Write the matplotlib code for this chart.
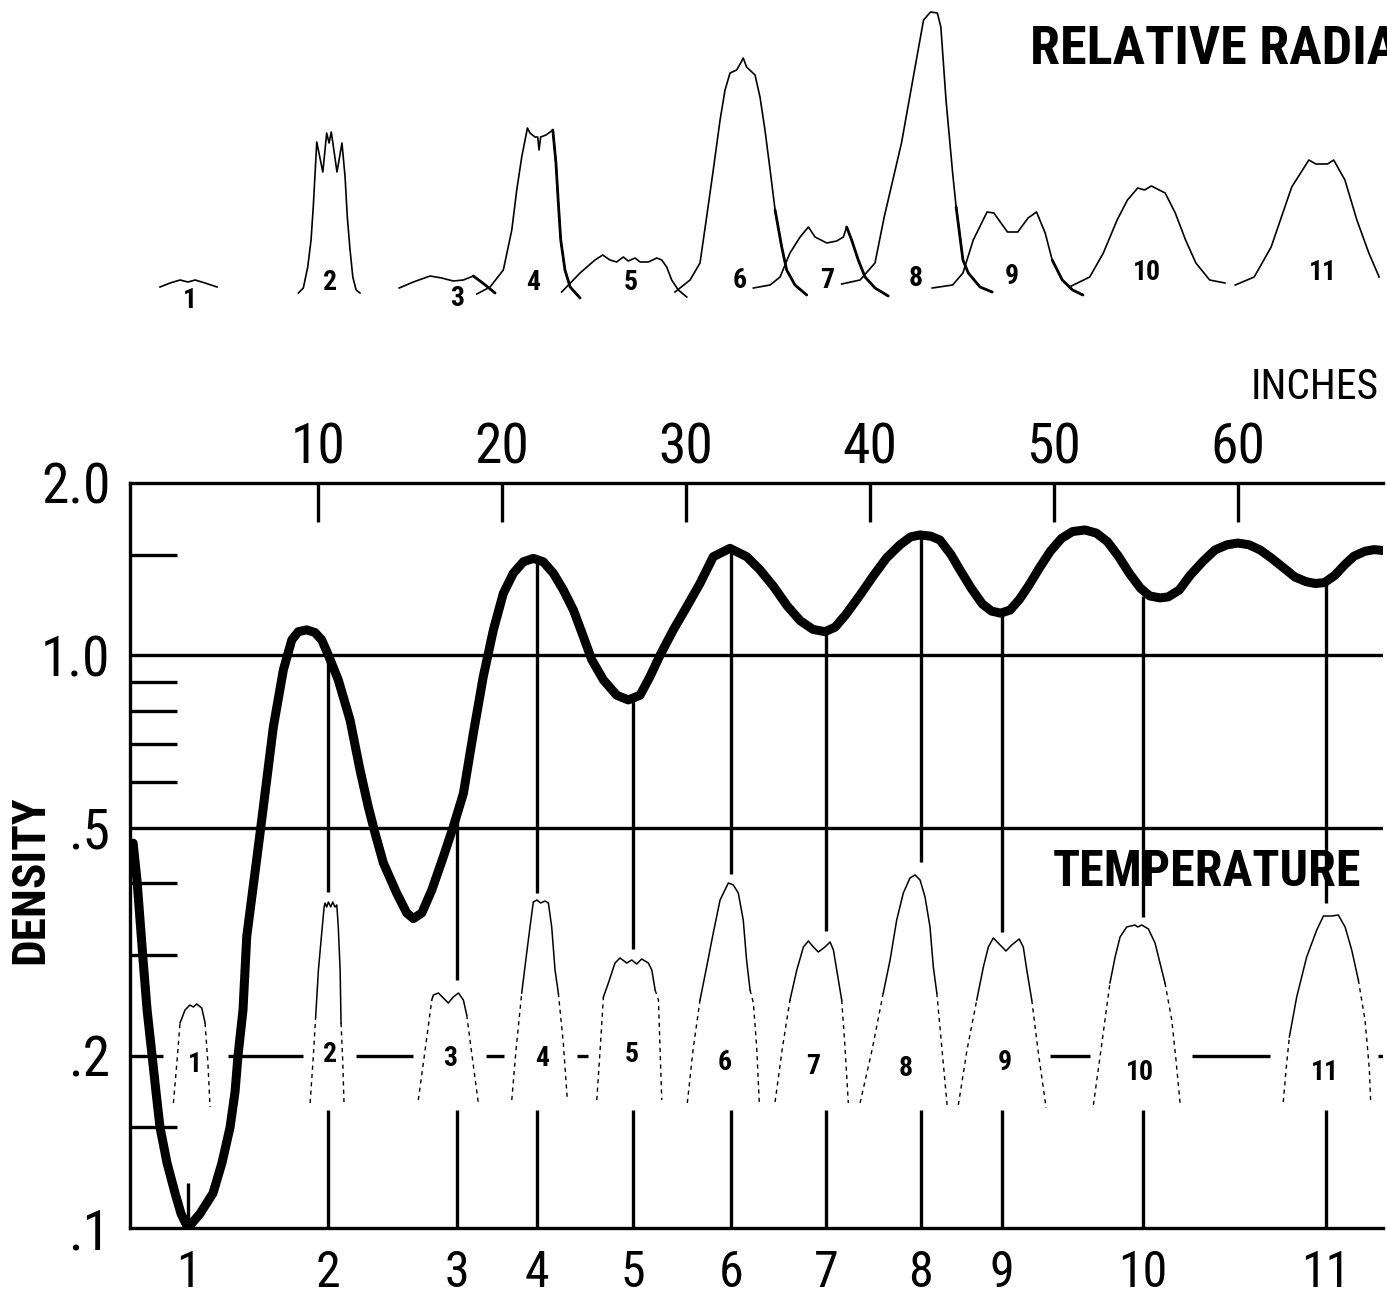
import numpy as np
import matplotlib.pyplot as plt
from matplotlib import font_manager
from matplotlib.ticker import FixedLocator, NullFormatter

# condensed lettering, falling back to what is installed
names = {f.name for f in font_manager.fontManager.ttflist}
COND = 'DejaVu Sans'
for cand in ['Roboto Condensed', 'Liberation Sans Narrow', 'DejaVu Sans']:
    if cand in names:
        COND = cand
        break
plt.rcParams['font.family'] = [COND, 'DejaVu Sans']

# ---- density along the bar (x in inches) ----
dens_in = [-0.05, 0.16, 0.49, 0.71, 0.98, 1.2, 1.41, 1.79, 2.23, 2.55, 2.93, 3.59, 4.29,
           4.78, 5.22, 5.49, 5.65, 5.92, 6.125, 6.848,
           7.571, 8.114, 8.571, 8.929, 9.386, 9.837, 10.2, 10.56, 11.1, 11.74, 12.28,
           12.73, 13.1, 13.55, 14.28, 14.82, 15.18, 15.64, 16.18, 16.81, 17.35, 17.9,
           18.44, 18.98, 19.53, 20.07, 20.61, 21.16, 21.7, 22.24, 22.79, 23.33, 23.88,
           24.42, 24.88, 25.51, 26.23, 26.86, 27.5, 28.04, 28.59, 29.31, 30.04, 30.76,
           31.48, 32.39, 33.3, 34.02, 34.75, 35.5, 36.2, 36.9, 37.55, 38.1, 38.7, 39.46,
           40.2, 40.9, 41.63, 42.2, 42.72, 43.3, 43.8, 44.4, 44.89, 45.5, 46.1, 46.6,
           47.1, 47.61, 48.1, 48.6, 49.2, 49.8, 50.4, 51.0, 51.68, 52.3, 52.9, 53.5,
           54.1, 54.7, 55.2, 55.76, 56.2, 56.8, 57.4, 58.1, 58.75, 59.4, 60.0, 60.6,
           61.2, 61.8, 62.5, 63.1, 63.7, 64.2, 64.7, 65.27, 65.8, 66.3, 66.9, 67.4, 67.85]
dens_val = [0.47, 0.405, 0.294, 0.24, 0.2, 0.172, 0.15, 0.13, 0.115, 0.106, 0.1, 0.106, 0.115,
            0.13, 0.15, 0.173, 0.2, 0.24, 0.323, 0.489,
            0.750, 0.943, 1.064, 1.100, 1.108, 1.096, 1.064, 1.001, 0.906, 0.771, 0.631,
            0.544, 0.489, 0.434, 0.384, 0.355, 0.347, 0.355, 0.389, 0.445, 0.502, 0.574,
            0.731, 0.918, 1.108, 1.283, 1.391, 1.457, 1.477, 1.457, 1.391, 1.301, 1.200,
            1.078, 0.982, 0.906, 0.852, 0.836, 0.852, 0.918, 1.001, 1.108, 1.216, 1.336,
            1.487, 1.538, 1.487, 1.410, 1.32, 1.22, 1.15, 1.11, 1.10, 1.12, 1.18, 1.275,
            1.38, 1.48, 1.56, 1.61, 1.623, 1.615, 1.59, 1.50, 1.41, 1.31, 1.23, 1.195,
            1.185, 1.20, 1.25, 1.32, 1.42, 1.52, 1.60, 1.645, 1.656, 1.635, 1.58, 1.49,
            1.39, 1.31, 1.27, 1.26, 1.265, 1.30, 1.38, 1.46, 1.528, 1.56, 1.571, 1.56,
            1.528, 1.48, 1.42, 1.37, 1.345, 1.335, 1.34, 1.38, 1.44, 1.49, 1.52, 1.53, 1.525]

# ---- nodes 1..11 ----
node_labels = ['1', '2', '3', '4', '5', '6', '7', '8', '9', '10', '11']
node_in = [2.93, 10.54, 17.55, 21.9, 27.12, 32.45, 37.61, 42.77, 47.17, 54.84, 64.78]
node_top = [None, 1.0, 0.52, 1.47, 0.84, 1.53, 1.10, 1.62, 1.19, 1.27, 1.34]
node_upper_end = [None, 0.386, 0.271, 0.385, 0.307, 0.415, 0.330, 0.436, 0.329, 0.349, 0.369]
node_low_top = [0.12, 0.161, 0.161, 0.161, 0.161, 0.161, 0.161, 0.161, 0.161, 0.161, 0.161]

# broken line at density .2
line02_from = [-0.22, 5.11, 12.07, 19.13, 24.08, 49.78, 57.5, 67.61]
line02_to = [1.58, 9.18, 15.16, 20.11, 24.67, 51.96, 61.74, 67.88]

y_major = [0.1, 0.2, 0.5, 1.0, 2.0]
y_major_lbl = ['.1', '.2', '.5', '1.0', '2.0']
y_minor = [0.15, 0.3, 0.4, 0.6, 0.7, 0.8, 0.9, 1.5]
inch_ticks = [10, 20, 30, 40, 50, 60]

# ---- relative radiation traces (inches, relative units) ----
rad_x = [
    [1.41, 1.96, 2.5, 2.93, 3.32, 3.86, 4.51],
    [8.93, 9.2, 9.44, 9.62, 9.74, 9.84, 9.93, 10.26, 10.47, 10.6, 10.72, 11.03, 11.3, 11.47,
     11.59, 11.74, 11.89, 12.07, 12.28],
    [14.41, 15.18, 16.09, 16.72, 17.35, 17.9, 18.44, 19.02, 19.62],
    [18.63, 19.35, 20.07, 20.53, 20.8, 21.07, 21.38, 21.52, 21.79, 21.94, 22.01, 22.1, 22.39,
     22.76, 22.93, 23.06, 23.19, 23.42, 23.7, 24.24],
    [23.24, 24.24, 25.05, 25.47, 25.87, 26.23, 26.59, 26.86, 27.23, 27.5, 27.95, 28.41, 28.68,
     28.95, 29.22, 29.58, 30.04],
    [29.4, 30.22, 30.76, 31.12, 31.48, 31.85, 32.12, 32.39, 32.75, 32.97, 33.11, 33.29, 33.75,
     34.02, 34.29, 34.57, 34.84, 35.2, 35.47, 35.92, 36.56],
    [33.66, 34.57, 35.11, 35.65, 36.2, 36.65, 37.01, 37.65, 38.19, 38.55, 38.73, 39.0, 39.36,
     39.73, 40.27, 40.99],
    [38.46, 39.46, 40.27, 40.77, 41.71, 42.45, 42.91, 43.29, 43.66, 43.85, 44.13, 44.49, 44.68,
     45.05, 45.34, 45.98, 46.64],
    [43.38, 44.49, 45.05, 45.61, 46.36, 46.73, 47.47, 48.03, 48.59, 49.05, 49.52, 49.9, 50.45,
     51.01, 51.57],
    [50.83, 51.94, 52.68, 53.43, 53.99, 54.55, 54.92, 55.29, 56.04, 56.59, 57.15, 57.71, 58.46,
     59.29],
    [59.85, 60.88, 61.8, 62.92, 63.85, 64.23, 64.87, 65.2, 65.81, 66.46, 67.11, 67.67],
]
rad_y = [
    [0.03, 0.07, 0.10, 0.08, 0.10, 0.07, 0.03],
    [-0.03, 0.02, 0.23, 0.50, 0.83, 1.17, 1.48, 1.18, 1.57, 1.47, 1.58, 1.18, 1.47, 1.13,
     0.73, 0.40, 0.13, 0.0, -0.03],
    [0.02, 0.08, 0.14, 0.12, 0.09, 0.10, 0.14, 0.06, -0.03],
    [-0.04, 0.03, 0.20, 0.60, 1.0, 1.33, 1.62, 1.57, 1.53, 1.53, 1.40, 1.53, 1.55,
     1.60, 1.27, 0.87, 0.50, 0.20, 0.03, -0.08],
    [-0.02, 0.17, 0.30, 0.35, 0.30, 0.28, 0.33, 0.29, 0.32, 0.28, 0.28, 0.32, 0.30,
     0.23, 0.10, 0.0, -0.07],
    [-0.02, 0.10, 0.27, 0.73, 1.20, 1.70, 2.0, 2.17, 2.20, 2.27, 2.32, 2.23, 2.15,
     1.93, 1.60, 1.20, 0.80, 0.43, 0.20, 0.05, -0.05],
    [0.02, 0.05, 0.13, 0.37, 0.53, 0.63, 0.53, 0.47, 0.49, 0.53, 0.63, 0.50, 0.30,
     0.13, 0.02, -0.06],
    [0.06, 0.10, 0.27, 0.73, 1.47, 2.23, 2.70, 2.78, 2.77, 2.63, 1.90, 1.17, 0.83,
     0.30, 0.17, 0.03, -0.02],
    [0.02, 0.05, 0.17, 0.50, 0.78, 0.77, 0.58, 0.58, 0.72, 0.78, 0.57, 0.30, 0.10,
     0.0, -0.05],
    [0.03, 0.13, 0.37, 0.70, 0.90, 1.02, 1.0, 1.04, 0.97, 0.77, 0.50, 0.27, 0.10, 0.07],
    [0.05, 0.13, 0.43, 1.03, 1.30, 1.26, 1.26, 1.30, 1.10, 0.70, 0.37, 0.13],
]
# index from which a trace is inked more heavily (None = all thin)
rad_heavy_from = [None, None, 6, 13, None, 16, 10, 12, 11, None, None]
rad_lbl_x = [3.04, 10.65, 17.55, 21.68, 27.01, 32.93, 37.66, 42.5, 47.72, 55.05, 64.62]
rad_lbl_y = [-0.10, 0.08, -0.08, 0.08, 0.07, 0.10, 0.10, 0.12, 0.13, 0.17, 0.18]

# ---- temperature traces (inches, relative units); solid between the two indices ----
temp_x = [
    [2.14, 2.34, 2.5, 2.77, 3.04, 3.22, 3.41, 3.68, 3.86, 4.02, 4.13],
    [9.57, 9.73, 9.87, 10.02, 10.2, 10.33, 10.38, 10.47, 10.56, 10.69, 10.8, 10.92, 11.02,
     11.1, 11.2, 11.25, 11.34, 11.41],
    [15.45, 15.82, 16.18, 16.27, 16.54, 16.81, 17.08, 17.35, 17.63, 17.9, 18.08, 18.35, 18.71],
    [20.53, 20.76, 21.07, 21.34, 21.52, 21.7, 21.89, 22.1, 22.34, 22.52, 22.7, 22.88, 23.06,
     23.33, 23.55],
    [25.15, 25.33, 25.51, 25.78, 26.14, 26.41, 26.78, 27.05, 27.32, 27.59, 27.95, 28.14,
     28.32, 28.5, 28.59, 28.68],
    [30.07, 30.38, 30.76, 31.12, 31.48, 31.85, 32.3, 32.57, 32.84, 33.11, 33.29, 33.48,
     33.66, 33.84, 33.98],
    [34.84, 35.22, 35.65, 36.02, 36.38, 36.65, 36.92, 37.19, 37.55, 37.83, 38.01, 38.19,
     38.46, 38.64, 38.82],
    [39.46, 40.11, 40.72, 41.09, 41.45, 41.81, 42.17, 42.45, 42.72, 42.99, 43.26, 43.44,
     43.63, 43.9, 44.2],
    [44.8, 45.27, 45.8, 46.16, 46.43, 46.7, 47.07, 47.39, 47.7, 48.11, 48.33, 48.52, 48.79,
     49.15, 49.57],
    [52.14, 52.55, 53.04, 53.32, 53.59, 53.95, 54.4, 54.55, 54.77, 55.13, 55.49, 55.76,
     56.03, 56.4, 56.63, 56.85],
    [62.46, 62.61, 62.79, 63.19, 63.73, 64.28, 64.64, 65.09, 65.45, 65.82, 66.18, 66.54,
     66.9, 67.0, 67.14, 67.21],
]
temp_y = [
    [0.07, 0.50, 0.87, 1.0, 1.05, 1.03, 1.06, 1.02, 0.87, 0.45, 0.03],
    [0.07, 0.50, 0.93, 1.40, 1.77, 2.03, 2.07, 2.03, 2.08, 2.03, 2.08, 2.03, 2.05,
     1.83, 1.40, 0.87, 0.50, 0.07],
    [0.10, 0.60, 1.10, 1.15, 1.17, 1.12, 1.07, 1.13, 1.17, 1.10, 0.95, 0.57, 0.07],
    [0.10, 0.60, 1.17, 1.57, 1.83, 2.08, 2.10, 2.07, 2.09, 2.07, 1.83, 1.40, 1.17,
     0.67, 0.10],
    [0.10, 0.60, 1.13, 1.27, 1.47, 1.52, 1.47, 1.50, 1.46, 1.51, 1.47, 1.40,
     1.20, 1.10, 0.60, 0.10],
    [0.07, 0.60, 1.10, 1.43, 1.77, 2.10, 2.27, 2.25, 2.17, 1.90, 1.50, 1.20,
     1.07, 0.63, 0.08],
    [0.08, 0.60, 1.10, 1.40, 1.63, 1.69, 1.63, 1.58, 1.63, 1.68, 1.60, 1.40,
     1.10, 0.63, 0.07],
    [0.07, 0.60, 1.17, 1.50, 1.90, 2.17, 2.32, 2.35, 2.30, 2.13, 1.83, 1.43,
     1.17, 0.63, 0.03],
    [0.05, 0.60, 1.10, 1.43, 1.63, 1.72, 1.65, 1.59, 1.65, 1.71, 1.63, 1.40, 1.10,
     0.57, 0.02],
    [0.05, 0.60, 1.27, 1.53, 1.73, 1.83, 1.85, 1.83, 1.85, 1.81, 1.67, 1.47,
     1.27, 0.90, 0.50, 0.07],
    [0.08, 0.40, 0.73, 1.13, 1.53, 1.80, 1.94, 1.94, 1.95, 1.83, 1.60, 1.30,
     0.90, 0.70, 0.40, 0.08],
]
temp_solid = [(2, 8), (2, 15), (2, 10), (2, 12), (2, 12), (2, 11), (2, 12), (2, 12),
              (2, 12), (2, 12), (2, 11)]
temp_lbl_x = [3.32, 10.65, 17.17, 22.17, 27.07, 32.12, 36.9, 41.96, 47.34, 54.67, 64.73]
temp_lbl_y = [0.45, 0.55, 0.52, 0.52, 0.55, 0.48, 0.43, 0.42, 0.47, 0.38, 0.38]

# ---------------------------------------------------------------
W, H = 1387, 1308
fig = plt.figure(figsize=(W / 100, H / 100), dpi=100)
fig.patch.set_facecolor('white')
XL = (-0.22, 67.88)
LW = 2.4

ax = fig.add_axes([130 / W, 80 / H, 1253 / W, 745 / H])
ax.set_yscale('log')
ax.set_xlim(*XL)
ax.set_ylim(0.1, 2.0)
ax.patch.set_alpha(0)

ax.plot(dens_in, dens_val, color='black', lw=6.5, solid_joinstyle='round',
        solid_capstyle='round', zorder=5)
ax.axhline(1.0, color='black', lw=LW, zorder=2)
ax.axhline(0.5, color='black', lw=LW, zorder=2)
ax.hlines([0.2] * len(line02_from), line02_from, line02_to, color='black', lw=LW, zorder=2)
ax.vlines(node_in[1:], node_upper_end[1:], node_top[1:], color='black', lw=LW, zorder=2)
ax.vlines(node_in, [0.1] * len(node_in), node_low_top, color='black', lw=LW, zorder=2)

for side in ['left', 'top', 'bottom']:
    ax.spines[side].set_linewidth(LW)
ax.spines['right'].set_visible(False)

ax.set_yticks(y_major)
ax.set_yticklabels(y_major_lbl)
ax.yaxis.set_minor_locator(FixedLocator(y_minor))
ax.yaxis.set_minor_formatter(NullFormatter())
ax.tick_params(axis='y', which='major', length=0, pad=14, labelsize=40)
ax.tick_params(axis='y', which='minor', direction='in', length=34, width=LW)

ax.set_xticks(node_in)
ax.set_xticklabels(node_labels)
ax.tick_params(axis='x', which='major', length=0, pad=15, labelsize=36)

sec = ax.secondary_xaxis('top')
sec.set_xticks(inch_ticks)
sec.tick_params(direction='in', length=28, width=LW, pad=6, labelsize=40)
sec.spines['top'].set_visible(False)

ax.text(1207 / W, 1 - 872 / H, 'TEMPERATURE', transform=fig.transFigure,
        ha='center', va='center', fontsize=36, fontweight='bold', zorder=1)

# temperature traces
tax = fig.add_axes([130 / W, 80 / H, 1253 / W, 745 / H])
tax.set_xlim(*XL)
tax.set_ylim(-1.18, 6.27)
tax.axis('off')
for xs, ys, (i0, i1), lx, ly, lab in zip(temp_x, temp_y, temp_solid,
                                          temp_lbl_x, temp_lbl_y, node_labels):
    tax.plot(xs[:i0 + 1], ys[:i0 + 1], color='black', lw=1.0, ls=(0, (3, 3)))
    tax.plot(xs[i1:], ys[i1:], color='black', lw=1.0, ls=(0, (3, 3)))
    tax.plot(xs[i0:i1 + 1], ys[i0:i1 + 1], color='black', lw=1.1)
    tax.text(lx, ly, lab, ha='center', va='center', fontsize=20, fontweight='bold')

# relative radiation traces
rax = fig.add_axes([130 / W, (H - 330) / H, 1253 / W, 330 / H])
rax.set_xlim(*XL)
rax.set_ylim(-0.4, 2.9)
rax.axis('off')
for xs, ys, hv in zip(rad_x, rad_y, rad_heavy_from):
    rax.plot(xs, ys, color='black', lw=1.2)
    if hv is not None:
        rax.plot(xs[hv:], ys[hv:], color='black', lw=2.0, solid_capstyle='round')
for lx, ly, lab in zip(rad_lbl_x, rad_lbl_y, node_labels):
    rax.text(lx, ly, lab, ha='center', va='center', fontsize=20, fontweight='bold')

fig.text(1030 / W, 1 - 50 / H, 'RELATIVE RADIATION', ha='left', va='center',
         fontsize=39, fontweight='bold')
fig.text(1315 / W, 1 - 388 / H, 'INCHES', ha='center', va='center', fontsize=30)
fig.text(30 / W, 1 - 880 / H, 'DENSITY', ha='center', va='center', rotation=90,
         fontsize=34, fontweight='bold')

fig.savefig('out.png', dpi=100, facecolor='white')
